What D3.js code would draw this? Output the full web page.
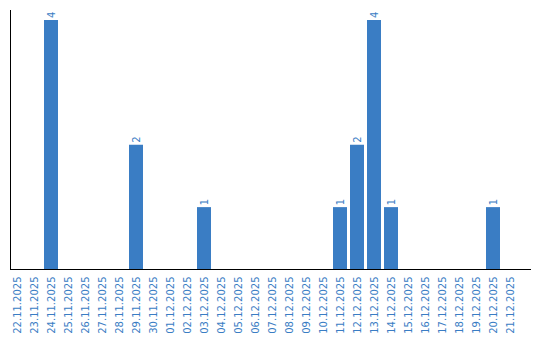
<!DOCTYPE html>
<html>
<head>
<meta charset="utf-8">
<script src="https://cdn.jsdelivr.net/npm/d3@7"></script>
<style>
  body { margin: 0; background: #fff; }
  text { font-family: "DejaVu Sans", sans-serif; }
</style>
</head>
<body>
<svg id="chart" width="540" height="340"></svg>
<script>
// dates on the x axis
const dates = [
    "22.11.2025", "23.11.2025", "24.11.2025", "25.11.2025", "26.11.2025",
    "27.11.2025", "28.11.2025", "29.11.2025", "30.11.2025", "01.12.2025",
    "02.12.2025", "03.12.2025", "04.12.2025", "05.12.2025", "06.12.2025",
    "07.12.2025", "08.12.2025", "09.12.2025", "10.12.2025", "11.12.2025",
    "12.12.2025", "13.12.2025", "14.12.2025", "15.12.2025", "16.12.2025",
    "17.12.2025", "18.12.2025", "19.12.2025", "20.12.2025", "21.12.2025"
];
// counts per date
const counts = [
    0, 0, 4, 0, 0,
    0, 0, 2, 0, 0,
    0, 1, 0, 0, 0,
    0, 0, 0, 0, 1,
    2, 4, 1, 0, 0,
    0, 0, 0, 1, 0
];

const barColor = "#3a7dc4";
const textColor = "#3a7dc4";

const plotLeft = 10, plotRight = 531, plotTop = 20, plotBottom = 269.5;

let data = dates.map(function (d, i) {
    return {date: d, value: counts[i]};
});

let svg = d3.select("#chart");

// band scale: step 17, bar 14
let x = d3.scaleBand()
    .domain(dates)
    .range([plotLeft, plotLeft + 17 * (30 - 3 / 17)])
    .paddingInner(3 / 17)
    .paddingOuter(0);

let y = d3.scaleLinear()
    .domain([0, d3.max(counts)])
    .range([plotBottom, plotTop]);

// bars
svg.selectAll(".bar")
    .data(data.filter(function (d) { return d.value > 0; }))
    .enter().append("rect")
    .attr("class", "bar")
    .attr("x", function (d) { return x(d.date); })
    .attr("y", function (d) { return y(d.value); })
    .attr("width", x.bandwidth())
    .attr("height", function (d) { return plotBottom - y(d.value); })
    .attr("fill", barColor);

// value labels, rotated
svg.selectAll(".val")
    .data(data.filter(function (d) { return d.value > 0; }))
    .enter().append("text")
    .attr("class", "val")
    .attr("transform", function (d) {
        return "translate(" + (x(d.date) + x.bandwidth() / 2 + 3.5) + "," + (y(d.value) - 2) + ") rotate(-90)";
    })
    .attr("text-anchor", "start")
    .attr("font-size", "10px")
    .attr("fill", textColor)
    .text(function (d) { return d.value; });

// x axis labels
let xAxis = d3.axisBottom(x).tickSize(0).tickPadding(0);
let gx = svg.append("g")
    .attr("transform", "translate(0," + plotBottom + ")")
    .call(xAxis);
gx.select(".domain").remove();
gx.selectAll("text")
    .attr("font-size", "10px")
    .attr("font-family", "DejaVu Sans, sans-serif")
    .attr("fill", textColor)
    .attr("text-anchor", "end")
    .attr("dy", "0.35em")
    .attr("transform", "translate(0,7) rotate(-90)")
    .attr("x", 0)
    .attr("y", 0);

// axis lines
svg.append("line")
    .attr("x1", plotLeft + 0.5).attr("x2", plotLeft + 0.5)
    .attr("y1", 10).attr("y2", plotBottom)
    .attr("stroke", "#000").attr("stroke-width", 1);
svg.append("line")
    .attr("x1", plotLeft).attr("x2", plotRight)
    .attr("y1", plotBottom).attr("y2", plotBottom)
    .attr("stroke", "#000").attr("stroke-width", 1);
</script>
</body>
</html>
